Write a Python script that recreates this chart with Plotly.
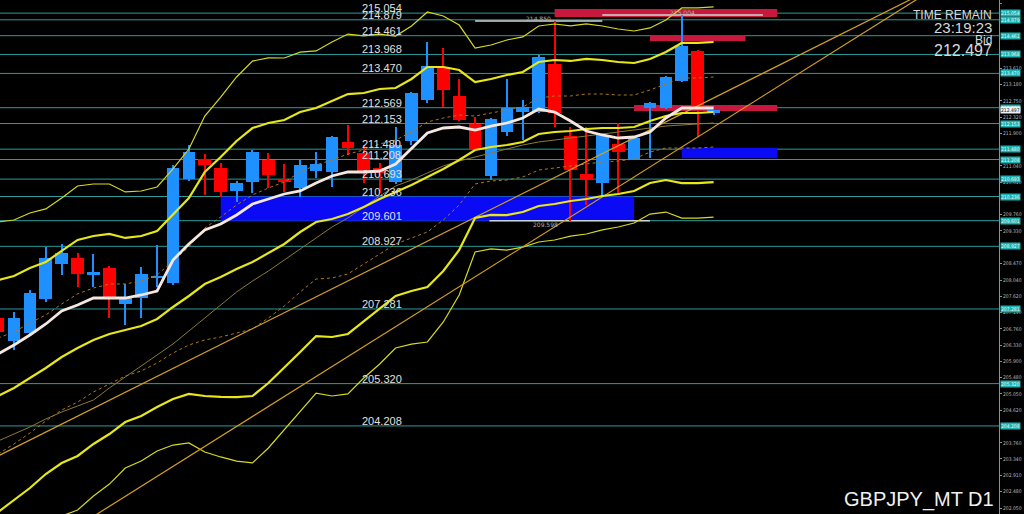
import plotly.graph_objects as go

# ---------------- data ----------------
idx = list(range(-1, 45))
opens = [207.044, 206.440, 206.650, 207.543, 208.463, 208.620, 208.174, 208.358, 207.412, 207.569,
         208.095, 207.963, 210.696, 211.221, 210.985, 210.381, 210.617, 211.195, 210.696, 210.459,
         210.906, 210.880, 211.668, 211.379, 210.985, 210.617, 211.694, 212.772, 213.639, 212.877,
         212.141, 210.775, 211.931, 212.456, 212.456, 213.717, 211.826, 210.827, 210.591, 211.616,
         211.221, 212.561, 212.561, 213.271, 214.059, 212.430]
highs = [207.149, 207.202, 207.780, 208.909, 208.988, 208.752, 208.725, 208.410, 207.937, 208.384,
         208.962, 211.064, 211.589, 211.353, 211.116, 210.643, 211.458, 211.379, 211.090, 211.195,
         211.405, 211.826, 212.115, 211.589, 211.116, 212.062, 212.982, 214.295, 214.138, 213.323,
         212.325, 212.299, 213.323, 212.772, 213.954, 214.850, 212.062, 212.062, 211.878, 212.167,
         211.799, 212.719, 213.402, 215.004, 214.085, 212.509]
lows = [206.518, 206.203, 206.597, 207.464, 208.174, 207.858, 207.858, 207.044, 206.860, 207.044,
        207.858, 207.911, 210.643, 210.276, 210.223, 210.092, 210.328, 210.459, 210.354, 210.223,
        210.722, 210.486, 211.327, 210.591, 210.328, 210.565, 211.589, 212.693, 212.588, 212.220,
        211.432, 210.670, 211.826, 211.721, 212.430, 212.062, 209.598, 210.013, 210.223, 210.328,
        211.195, 211.248, 212.535, 213.245, 211.799, 212.377]
closes = [206.676, 207.044, 207.701, 208.620, 208.752, 208.200, 208.252, 207.596, 207.569, 208.200,
          208.147, 210.985, 211.405, 211.064, 210.354, 210.591, 211.405, 210.801, 210.617, 211.064,
          211.090, 211.799, 211.510, 210.906, 210.854, 211.589, 212.956, 213.665, 213.034, 212.246,
          211.484, 212.272, 212.561, 212.588, 213.901, 212.430, 210.932, 210.696, 211.852, 211.405,
          211.773, 212.693, 213.376, 214.190, 212.588, 212.497]

# Bollinger band centre line and one standard deviation (price units)
bb_mid = [204.994, 205.205, 205.467, 205.730, 206.019, 206.256, 206.466, 206.623, 206.729, 206.834,
          207.018, 207.333, 207.622, 207.937, 208.121, 208.331, 208.515, 208.752, 208.988, 209.303,
          209.566, 209.645, 209.776, 209.960, 210.170, 210.354, 210.538, 210.749, 210.959, 211.195,
          211.458, 211.537, 211.589, 211.668, 211.878, 211.931, 211.957, 212.010, 212.036, 212.036,
          212.062, 212.220, 212.351, 212.430, 212.430, 212.456]
bb_sigma = [1.524, 1.471, 1.445, 1.393, 1.393, 1.419, 1.366, 1.314, 1.209, 1.182,
            1.156, 1.209, 1.287, 1.471, 1.576, 1.682, 1.760, 1.708, 1.629, 1.576,
            1.498, 1.550, 1.576, 1.498, 1.445, 1.366, 1.393, 1.445, 1.340, 1.182,
            0.893, 0.893, 0.920, 0.920, 0.946, 0.946, 0.920, 0.920, 0.893, 0.867,
            0.841, 0.815, 0.841, 0.920, 0.920, 0.920]
ma_fast = [206.098, 206.334, 206.597, 206.886, 207.228, 207.385, 207.569, 207.569, 207.569, 207.648,
           207.753, 208.568, 208.988, 209.356, 209.514, 209.750, 210.039, 210.170, 210.302, 210.381,
           210.591, 210.775, 210.880, 210.880, 210.906, 211.090, 211.510, 211.905, 212.036, 212.062,
           211.983, 212.088, 212.167, 212.299, 212.535, 212.456, 212.220, 211.957, 211.852, 211.773,
           211.799, 211.931, 212.299, 212.561, 212.561, 212.561]
ma_slow = [203.812, 203.996, 204.180, 204.390, 204.574, 204.732, 204.889, 205.205, 205.494, 205.783,
           206.072, 206.361, 206.702, 207.044, 207.385, 207.727, 208.016, 208.279, 208.568, 208.857,
           209.146, 209.435, 209.671, 209.960, 210.249, 210.512, 210.670, 210.854, 211.038, 211.169,
           211.274, 211.379, 211.484, 211.589, 211.668, 211.721, 211.773, 211.826, 211.878, 211.931,
           211.983, 212.036, 212.088, 212.115, 212.141, 212.167]

levels = [215.054, 214.879, 214.461, 213.968, 213.470, 212.569, 212.153, 211.480,
          211.208, 210.693, 210.236, 209.601, 208.927, 207.281, 205.320, 204.208]
level_text = ["215.054", "214.879", "214.461", "213.968", "213.470", "212.569", "212.153", "211.480",
              "211.208", "210.693", "210.236", "209.601", "208.927", "207.281", "205.320", "204.208"]

# price-scale labels that stay visible beside the level boxes
axis_ticks = [215.320, 213.610, 213.180, 212.750, 212.320, 211.900, 211.040, 210.610,
              209.760, 209.330, 208.470, 208.040, 207.620, 207.190, 206.760, 206.330,
              205.900, 205.480, 205.050, 204.620, 203.760, 203.340, 202.910, 202.480, 202.050]

# zones: candle-index span and price span
blue_x0 = [13, 42]
blue_x1 = [39, 48]
blue_lo = [209.601, 211.240]
blue_hi = [210.236, 211.520]
red_x0 = [34, 40, 39]
red_x1 = [48, 46, 48]
red_lo = [214.950, 214.322, 212.483]
red_hi = [215.163, 214.479, 212.640]

# marked extremes: price, line start/end index, label
mark_price = [215.004, 214.850, 209.598]
mark_x0 = [37.0, 29.0, 29.9]
mark_x1 = [47.1, 37.0, 40.0]
mark_text = ["215.004", "214.850", "209.598"]

# trend lines: two anchors each (candle index, price)
trend_a_x = [0, 44]
trend_a_y = [203.628, 212.824]
trend_b_x = [37, 44]
trend_b_y = [210.226, 212.062]

bid = 212.497
symbol_text = "GBPJPY_MT D1"
time_remain = "23:19:23"

# ---------------- figure ----------------
NARROW = "Liberation Sans Narrow, Arial Narrow, Liberation Sans, sans-serif"
SMALL = "Liberation Sans Narrow, DejaVu Sans Condensed, Liberation Sans, sans-serif"
BLUE = "#1E90FF"
RED = "#FF0000"
LEVEL = "#2A9C9C"

fig = go.Figure()

# zones (behind everything)
for x0, x1, lo, hi in zip(blue_x0, blue_x1, blue_lo, blue_hi):
    fig.add_shape(type="rect", x0=x0, x1=x1, y0=lo, y1=hi, xref="x", yref="y",
                  fillcolor="#0A0AF5", line=dict(width=0), layer="below")
for x0, x1, lo, hi in zip(red_x0, red_x1, red_lo, red_hi):
    fig.add_shape(type="rect", x0=x0, x1=x1, y0=lo, y1=hi, xref="x", yref="y",
                  fillcolor="#C8183E", line=dict(width=0), layer="below")

# horizontal levels
for lv in levels:
    fig.add_shape(type="line", xref="paper", x0=0, x1=1, y0=lv, y1=lv, yref="y",
                  line=dict(color=LEVEL, width=1), layer="below")

# marked extremes
for p, x0, x1 in zip(mark_price, mark_x0, mark_x1):
    fig.add_shape(type="line", x0=x0, x1=x1, y0=p, y1=p, xref="x", yref="y",
                  line=dict(color="#C8D8D8", width=1.5), layer="below")

# candles: wicks + bodies
colors = [BLUE if c >= o else RED for o, c in zip(opens, closes)]
fig.add_trace(go.Bar(x=idx, base=lows, y=[h - l for h, l in zip(highs, lows)], width=0.07,
                     marker=dict(color=colors, line=dict(width=0)), hoverinfo="skip"))
body_base = [min(o, c) for o, c in zip(opens, closes)]
body_h = [max(abs(c - o), 0.06) for o, c in zip(opens, closes)]
fig.add_trace(go.Bar(x=idx, base=body_base, y=body_h, width=0.8,
                     marker=dict(color=colors, line=dict(width=0)), hoverinfo="skip"))

# bollinger bands
def band(k):
    return [m + k * s for m, s in zip(bb_mid, bb_sigma)]

for k in (3, -3):
    fig.add_trace(go.Scatter(x=idx, y=band(k), mode="lines",
                             line=dict(color="#D8D820", width=1.2), hoverinfo="skip"))
for k in (1, -1):
    fig.add_trace(go.Scatter(x=idx, y=band(k), mode="lines",
                             line=dict(color="#B07818", width=1, dash="dot"), hoverinfo="skip"))
fig.add_trace(go.Scatter(x=idx, y=ma_slow, mode="lines",
                         line=dict(color="#8A7A30", width=1), hoverinfo="skip"))

# trend lines extended to the chart edges
def extend(xs, ys):
    slope = (ys[1] - ys[0]) / (xs[1] - xs[0])
    ex = [-2, 63]
    return ex, [ys[0] + slope * (e - xs[0]) for e in ex]

for tx, ty in ((trend_a_x, trend_a_y), (trend_b_x, trend_b_y)):
    ex, ey = extend(tx, ty)
    fig.add_trace(go.Scatter(x=ex, y=ey, mode="lines",
                             line=dict(color="#D4A020", width=1.2), hoverinfo="skip"))

for k in (2, 0, -2):
    fig.add_trace(go.Scatter(x=idx, y=band(k), mode="lines",
                             line=dict(color="#E8E818", width=2.2), hoverinfo="skip"))
fig.add_trace(go.Scatter(x=idx, y=ma_fast, mode="lines",
                         line=dict(color="#F6E8E0", width=2.8), hoverinfo="skip"))

annotations = []
# level labels on the lines and boxes on the price scale
for lv, t in zip(levels, level_text):
    annotations.append(dict(xref="paper", yref="y", x=360 / 999, y=lv, text=t, showarrow=False,
                            xanchor="left", yanchor="bottom", yshift=-3,
                            font=dict(family=NARROW, size=11, color="#E0E0E0")))
    annotations.append(dict(xref="paper", yref="y", x=1.0, y=lv, text=t, showarrow=False,
                            xanchor="left", yanchor="middle", xshift=1,
                            bgcolor="#1FB0B0", borderpad=0,
                            font=dict(family=SMALL, size=5, color="#E8FFFF")))
annotations.append(dict(xref="paper", yref="y", x=1.0, y=bid, text=f"{bid:.3f}", showarrow=False,
                        xanchor="left", yanchor="middle", xshift=1, bgcolor="#F0F0F0", borderpad=0,
                        font=dict(family=SMALL, size=5, color="#202020")))
# small extreme labels
for p, x0, x1, t in zip(mark_price, mark_x0, mark_x1, mark_text):
    low_mark = p < 212
    annotations.append(dict(xref="x", yref="y", x=(x0 + x1) / 2 - (1.5 if low_mark else 0),
                            y=p, text=t, showarrow=False,
                            yanchor="top" if low_mark else "bottom", yshift=2 if low_mark else -3,
                            font=dict(family="DejaVu Sans", size=6, color="#B0B0B0")))
# info texts top-right
info = [("TIME REMAIN", 15, 12), (time_remain, 27, 15), ("Bid", 40, 12), (f"{bid:.3f}", 51, 16)]
for t, ypx, fs in info:
    annotations.append(dict(xref="paper", yref="paper", x=994 / 999, y=1 - ypx / 514, text=t,
                            showarrow=False, xanchor="right", yanchor="middle",
                            font=dict(family=NARROW, size=fs, color="#D8D8D8")))
annotations.append(dict(xref="paper", yref="paper", x=996 / 999, y=0, text=symbol_text,
                        showarrow=False, xanchor="right", yanchor="bottom", yshift=1,
                        font=dict(family=NARROW, size=20, color="#F0F0F0")))

fig.update_layout(
    width=1024, height=514, margin=dict(l=0, r=25, t=0, b=0),
    paper_bgcolor="#000000", plot_bgcolor="#000000",
    showlegend=False, barmode="overlay", bargap=0,
    annotations=annotations,
    xaxis=dict(range=[-0.88, 61.95], visible=False, fixedrange=True),
    yaxis=dict(range=[201.894, 215.399], side="right", tickvals=axis_ticks,
               ticktext=[f"{v:.3f}" for v in axis_ticks], showgrid=False, zeroline=False,
               automargin=False,
               showline=True, linecolor="#909090", linewidth=1, ticks="outside", ticklen=2,
               tickcolor="#909090", tickfont=dict(family=SMALL, size=5, color="#B8B8B8"),
               fixedrange=True),
)

fig.write_html("out.html", config={"displayModeBar": False},
               post_script="document.body.style.margin='0px';")
